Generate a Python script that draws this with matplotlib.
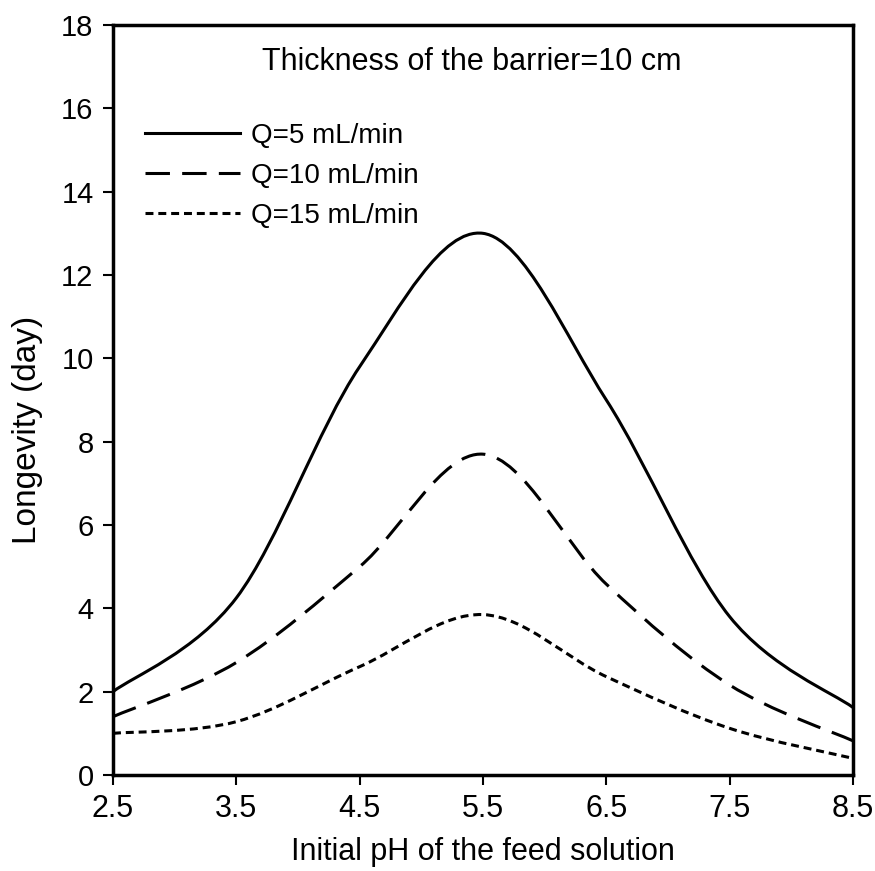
import numpy as np
import matplotlib.pyplot as plt
from matplotlib.path import Path
from matplotlib.patches import PathPatch
from matplotlib.lines import Line2D

# longevity (day) vs initial pH for three flow rates
ph = [2.5, 3.5, 4.5, 5.5, 6.5, 7.5, 8.5]
q5 = [2.0, 4.25, 9.8, 13.0, 9.0, 3.8, 1.62]
q10 = [1.4, 2.7, 5.0, 7.7, 4.58, 2.16, 0.82]
q15 = [1.0, 1.28, 2.6, 3.85, 2.36, 1.12, 0.4]

labels = ['Q=5 mL/min', 'Q=10 mL/min', 'Q=15 mL/min']
dashes = [None, (8, 4), (2.6, 1.6)]

font = ['Liberation Sans', 'DejaVu Sans']


def smooth_path(x, y):
    # smoothed line: cubic bezier (catmull-rom) through every point
    x = np.asarray(x, float)
    y = np.asarray(y, float)
    n = len(x)
    verts = [(x[0], y[0])]
    codes = [Path.MOVETO]
    for i in range(n - 1):
        i0 = max(i - 1, 0)
        i3 = min(i + 2, n - 1)
        c1 = (x[i] + (x[i + 1] - x[i0]) / 6, y[i] + (y[i + 1] - y[i0]) / 6)
        c2 = (x[i + 1] - (x[i3] - x[i]) / 6, y[i + 1] - (y[i3] - y[i]) / 6)
        verts += [c1, c2, (x[i + 1], y[i + 1])]
        codes += [Path.CURVE4] * 3
    return Path(verts, codes)


fig = plt.figure(figsize=(8.75, 8.71), dpi=100)
ax = fig.add_axes([113 / 875, 96 / 871, 740 / 875, 750 / 871])

handles = []
for ys, lab, d in zip([q5, q10, q15], labels, dashes):
    patch = PathPatch(smooth_path(ph, ys), facecolor='none', edgecolor='black',
                      lw=2.2, capstyle='butt')
    if d is not None:
        patch.set_linestyle((0, d))
    ax.add_patch(patch)
    h = Line2D([], [], color='black', lw=2.2, label=lab)
    if d is not None:
        h.set_dashes(d)
    handles.append(h)

ax.set_xlim(2.5, 8.5)
ax.set_ylim(0, 18)
ax.set_xticks(ph)
ax.set_xticklabels([f'{v:.1f}' for v in ph], family=font, fontsize=22)
ax.set_yticks(range(0, 19, 2))
ax.set_yticklabels([str(v) for v in range(0, 19, 2)], family=font, fontsize=21)
ax.tick_params(direction='out', length=7, width=1.5, pad=7)
for s in ax.spines.values():
    s.set_linewidth(2.5)

ax.set_xlabel('Initial pH of the feed solution', family=font, fontsize=22, labelpad=9)
ax.set_ylabel('Longevity (day)', family=font, fontsize=24)
ax.yaxis.set_label_coords(-0.094, 0.46)

ax.text(0.485, 0.95, 'Thickness of the barrier=10 cm', transform=ax.transAxes,
        ha='center', va='center', family=font, fontsize=22)

ax.legend(handles=handles, loc='upper left', bbox_to_anchor=(0.01, 0.903), frameon=False,
          prop={'family': font, 'size': 20}, handlelength=3.4, handletextpad=0.4,
          labelspacing=0.5)

fig.savefig('out.png', dpi=100)
